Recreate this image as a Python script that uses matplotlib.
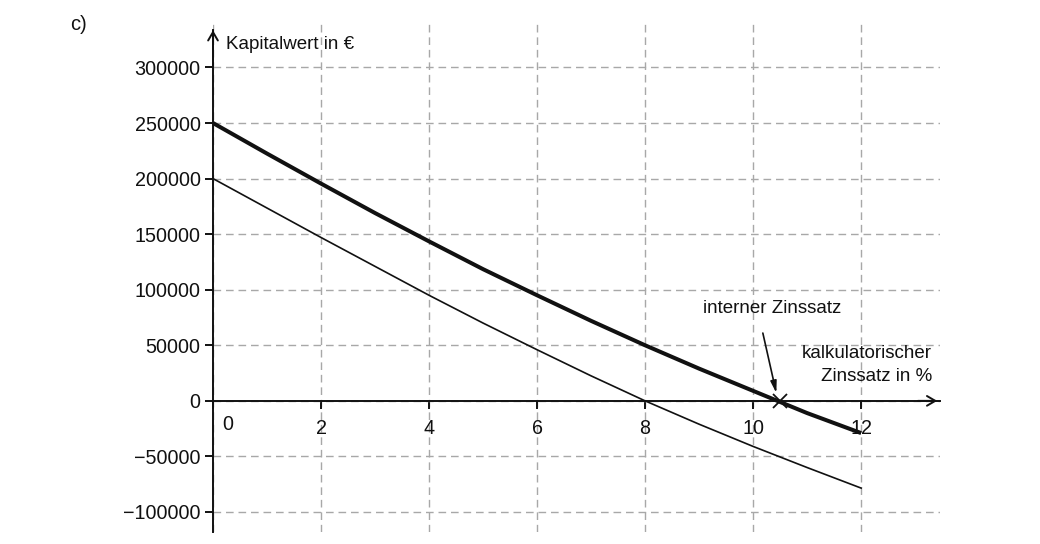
import matplotlib
matplotlib.use("Agg")
import matplotlib.pyplot as plt

plt.rcParams['font.family'] = ['Liberation Sans', 'DejaVu Sans']

# kalkulatorischer Zinssatz in %
zins = [0, 1, 2, 3, 4, 5, 6, 7, 8, 9, 10, 11, 12]
# Kapitalwert in EUR (dicke Kurve)
kw_a = [250000, 222500, 195500, 169000, 143500, 118500, 95000, 72000, 50000, 29000, 9000, -11000, -29000]
# Kapitalwert in EUR (duenne Kurve)
kw_b = [200000, 173500, 147000, 121000, 95000, 70000, 46000, 22500, 0, -21000, -41000, -60000, -78500]

irr_x = [10.5]
irr_y = [0]

yticks = [-100000, -50000, 0, 50000, 100000, 150000, 200000, 250000, 300000]
ytick_labels = ["\u2212100000", "\u221250000", "0", "50000", "100000", "150000",
                "200000", "250000", "300000"]
xticks = [0, 2, 4, 6, 8, 10, 12]

fs = 13.5
tfs = 14.2
ink = "#111111"

fig = plt.figure(figsize=(10.4, 5.44), dpi=100)
ax = fig.add_axes([213/1040, 12/544, 727/1040, 509/544])
ax.set_xlim(0, 13.46)
ax.set_ylim(-118000, 340000)

for s in ['top', 'right']:
    ax.spines[s].set_visible(False)
ax.spines['bottom'].set_position(('data', 0))
ax.spines['left'].set_bounds(-118000, 334000)
for s in ['left', 'bottom']:
    ax.spines[s].set_linewidth(1.4)
    ax.spines[s].set_color(ink)

ax.set_yticks(yticks)
ax.set_yticklabels(ytick_labels)
ax.set_xticks(xticks)
ax.set_xticklabels([""] + [str(x) for x in xticks[1:]])
ax.tick_params(axis='y', direction='out', length=6, width=1.4, pad=3,
               labelsize=tfs, colors=ink)
ax.tick_params(axis='x', direction='out', length=6, width=1.4, pad=7,
               labelsize=tfs, colors=ink)
ax.text(0.28, -12500, "0", fontsize=tfs, color=ink, ha='center', va='top')

ax.grid(True, color="#a8a8a8", linewidth=1.0, linestyle=(0, (5.5, 3.5)))
ax.set_axisbelow(True)

ax.plot(zins, kw_a, color=ink, lw=2.9, solid_capstyle='butt', zorder=3)
ax.plot(zins, kw_b, color=ink, lw=1.2, zorder=3)
ax.plot(irr_x, irr_y, marker='x', color=ink, markersize=10, mew=1.3,
        linestyle='none', zorder=4)

# Pfeilspitzen der Achsen
ax.annotate("", xy=(13.46, 0), xytext=(13.0, 0),
            arrowprops=dict(arrowstyle='->,head_length=0.6,head_width=0.35',
                            lw=1.4, color=ink), annotation_clip=False)
ax.annotate("", xy=(0, 336000), xytext=(0, 300000),
            arrowprops=dict(arrowstyle='->,head_length=0.6,head_width=0.35',
                            lw=1.4, color=ink), annotation_clip=False)

ax.text(0.24, 321000, "Kapitalwert in \u20ac", fontsize=fs, color=ink,
        ha='left', va='center')
ax.text(13.31, 32400, "kalkulatorischer\nZinssatz in %", fontsize=fs,
        color=ink, ha='right', va='center', linespacing=1.45)
ax.text(10.35, 82700, "interner Zinssatz", fontsize=fs, color=ink,
        ha='center', va='center')
ax.annotate("", xy=(10.43, 7000), xytext=(10.18, 61000),
            arrowprops=dict(arrowstyle='-|>,head_length=0.7,head_width=0.18',
                            lw=1.2, color=ink, shrinkA=0, shrinkB=0))

fig.text(70/1040, 1 - 25/544, "c)", fontsize=fs + 1, color=ink,
         ha='left', va='center')

fig.savefig("out.png", dpi=100)
